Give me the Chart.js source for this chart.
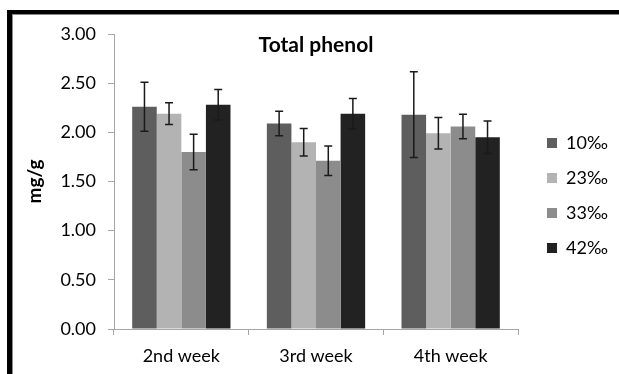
<!DOCTYPE html>
<html><head><meta charset="utf-8">
<script src="https://cdn.jsdelivr.net/npm/chart.js@4"></script>
<style>
html,body{margin:0;padding:0;background:#fff;}
#wrap{position:relative;width:619px;height:374px;overflow:hidden;}
#frame{position:absolute;left:7px;top:10px;width:700px;height:500px;border-left:5px solid #000;border-top:4px solid #000;box-shadow:inset 1px 1px 0 #8a8a8a;pointer-events:none;}
</style></head><body>
<div id="wrap"><canvas id="c" width="619" height="374"></canvas><div id="frame"></div></div>
<script>
const categories = ['2nd week', '3rd week', '4th week'];
const seriesNames = ['10‰', '23‰', '33‰', '42‰'];
const s10 = [2.26, 2.09, 2.18];
const s23 = [2.19, 1.90, 1.99];
const s33 = [1.80, 1.71, 2.06];
const s42 = [2.28, 2.19, 1.95];
const e10 = [0.25, 0.125, 0.435];
const e23 = [0.11, 0.14, 0.16];
const e33 = [0.18, 0.15, 0.125];
const e42 = [0.155, 0.155, 0.165];
const yTickLabels = ['0.00', '0.50', '1.00', '1.50', '2.00', '2.50', '3.00'];
const colors = ['#5e5e5e', '#b3b3b3', '#8c8c8c', '#222222'];

const values = [s10, s23, s33, s42];
const errors = [e10, e23, e33, e42];
const FONT = 'Lato, "Open Sans", sans-serif';
const axisGrey = '#a6a6a6';

const errorBars = {
  id: 'errorBars',
  afterDatasetsDraw(chart) {
    const ctx = chart.ctx;
    const y = chart.scales.y;
    ctx.save();
    ctx.strokeStyle = '#1a1a1a';
    ctx.lineWidth = 1.5;
    chart.data.datasets.forEach((ds, i) => {
      const meta = chart.getDatasetMeta(i);
      meta.data.forEach((bar, j) => {
        const v = ds.data[j], e = errors[i][j];
        const top = y.getPixelForValue(v + e), bot = y.getPixelForValue(v - e);
        const x = bar.x;
        ctx.beginPath();
        ctx.moveTo(x, top); ctx.lineTo(x, bot);
        ctx.moveTo(x - 4, top); ctx.lineTo(x + 4, top);
        ctx.moveTo(x - 4, bot); ctx.lineTo(x + 4, bot);
        ctx.stroke();
      });
    });
    ctx.restore();
  }
};

const legendPlace = {
  id: 'legendPlace',
  beforeLayout(chart) {
    const lg = chart.legend;
    if (lg && !lg._wrapped) {
      const f = lg.fit;
      lg.fit = function () { f.call(this); this.width = 101; };
      lg._wrapped = true;
    }
  },
  afterLayout(chart) {
    const lg = chart.legend;
    const w = lg.width, h = lg.height;
    lg.left = 530; lg.right = 530 + w;
    lg.top = 117; lg.bottom = 117 + h;
  }
};

new Chart(document.getElementById('c'), {
  type: 'bar',
  data: {
    labels: categories,
    datasets: seriesNames.map((n, i) => ({
      label: n,
      data: values[i],
      backgroundColor: colors[i],
      borderWidth: 0,
      categoryPercentage: 0.73,
      barPercentage: 1.0
    }))
  },
  options: {
    responsive: false,
    animation: false,
    layout: { padding: { left: 0, right: 0, top: 34, bottom: 0 } },
    plugins: {
      title: {
        display: true,
        text: 'Total phenol',
        fullSize: false,
        color: '#000',
        font: { family: FONT, size: 21, weight: 'bold' },
        padding: { top: -1.6, bottom: -23.6 }
      },
      legend: {
        position: 'right',
        align: 'start',
        labels: {
          boxWidth: 10, boxHeight: 10, padding: 17,
          color: '#000',
          font: { family: FONT, size: 18 }
        }
      },
      tooltip: { enabled: false }
    },
    scales: {
      x: {
        grid: { display: true, drawOnChartArea: false, drawTicks: true, tickLength: 6, color: axisGrey, offset: true },
        border: { color: axisGrey, width: 1 },
        ticks: { color: '#000', padding: 10, font: { family: FONT, size: 18 } },
        afterFit(s) { s.height = 45; }
      },
      y: {
        min: 0, max: 3,
        grid: { display: true, drawOnChartArea: false, drawTicks: true, tickLength: 6, color: axisGrey },
        border: { color: axisGrey, width: 1 },
        ticks: {
          stepSize: 0.5, color: '#000', padding: 12,
          font: { family: FONT, size: 18 },
          callback: (v, i) => yTickLabels[i]
        },
        title: {
          display: true, text: 'mg/g', color: '#000',
          font: { family: FONT, size: 19, weight: 'bold' },
          padding: { top: 23.6, bottom: 0 }
        },
        afterFit(s) { s.width = 114; }
      }
    }
  },
  plugins: [errorBars, legendPlace]
});
</script>
</body></html>
